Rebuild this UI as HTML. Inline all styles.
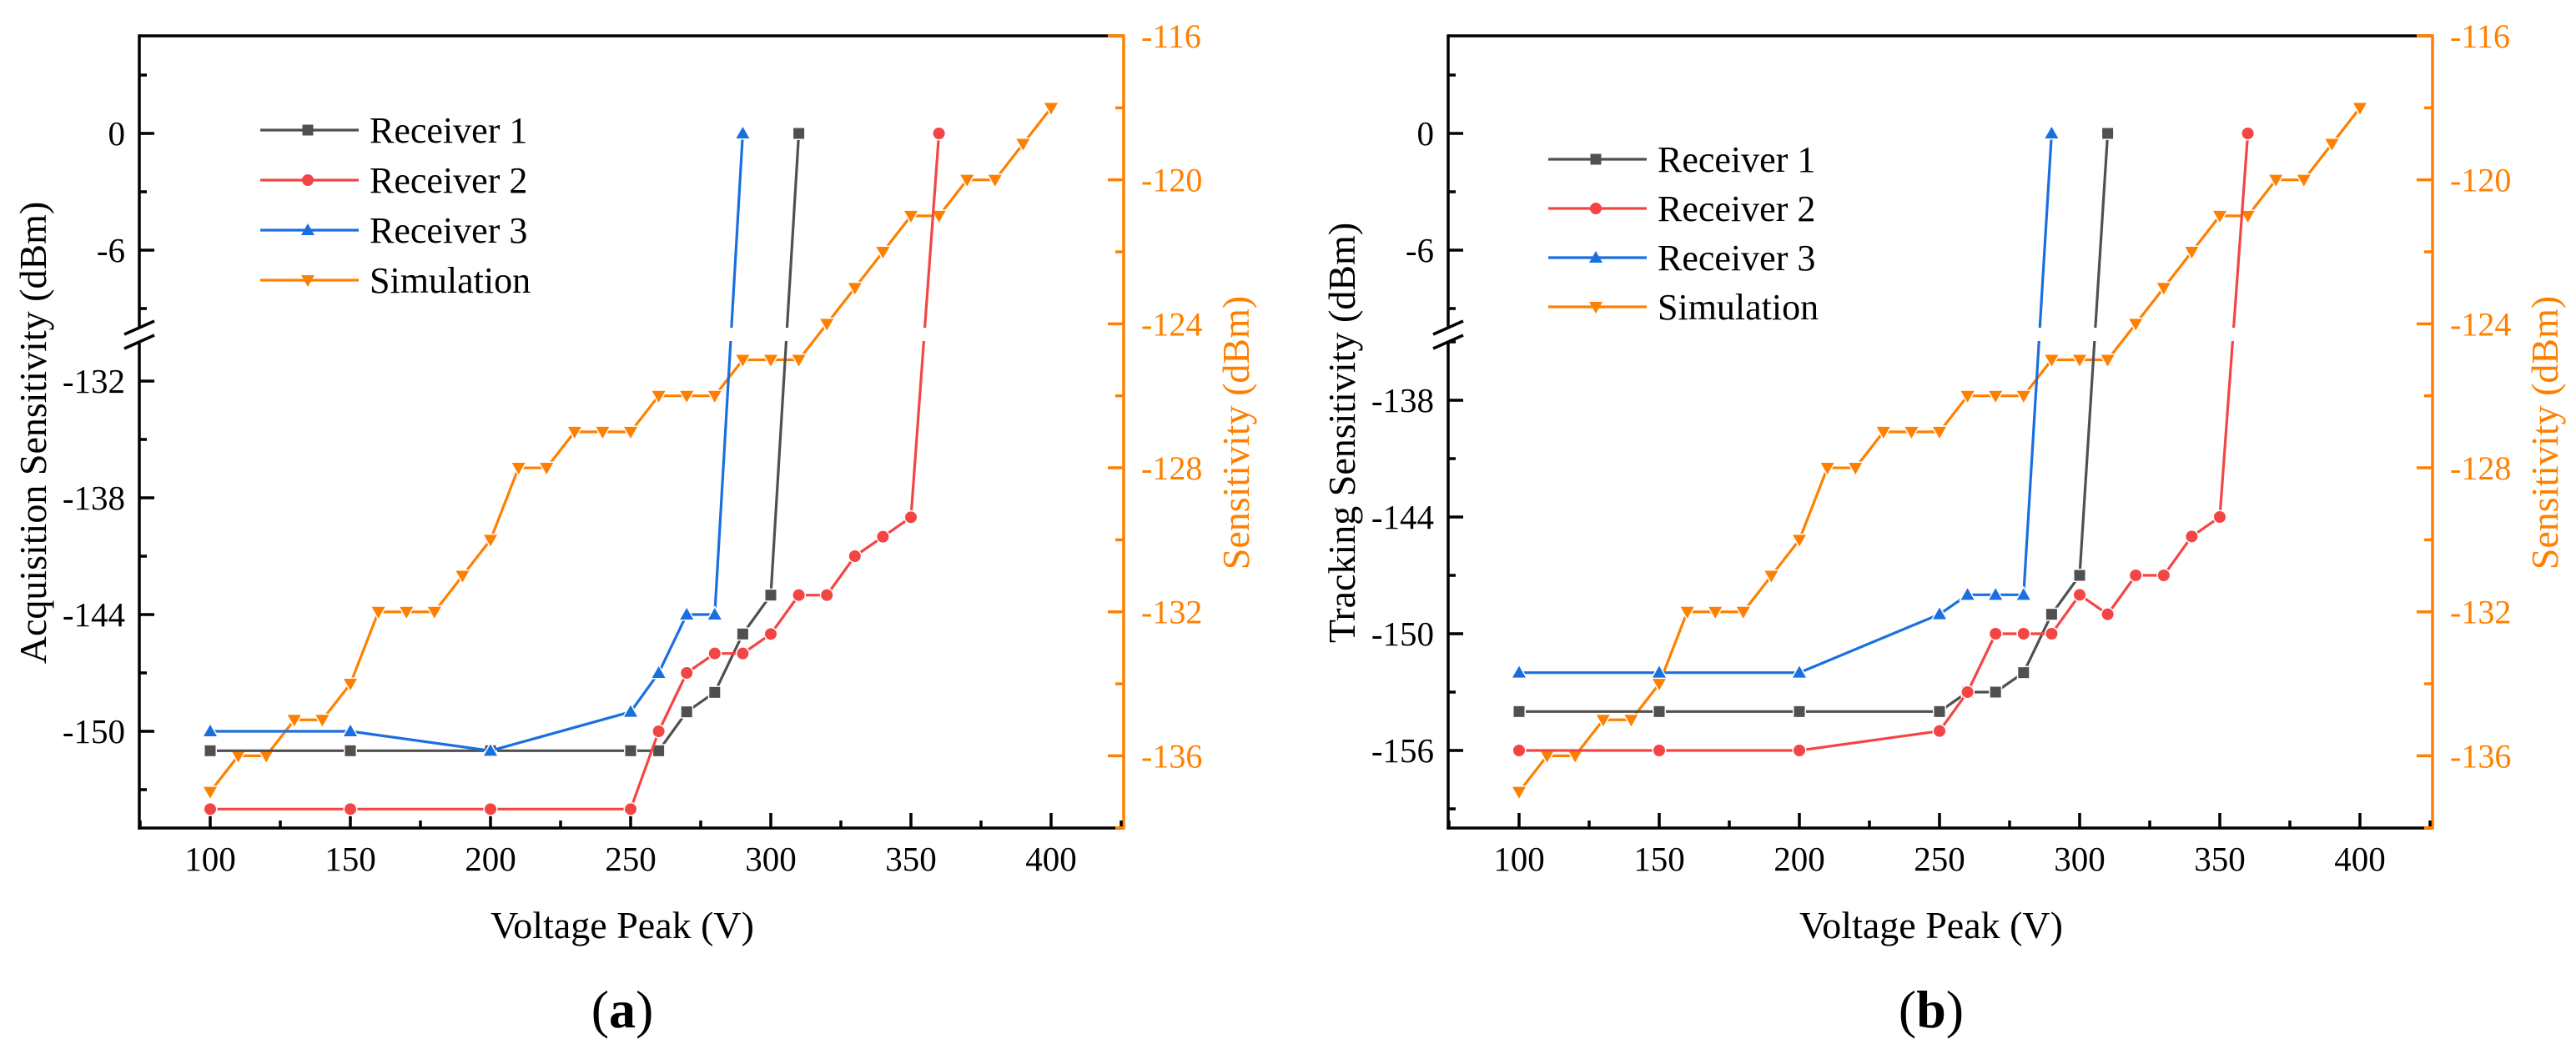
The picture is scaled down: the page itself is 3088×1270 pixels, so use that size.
<!DOCTYPE html>
<html><head><meta charset="utf-8"><style>
html,body{margin:0;padding:0;background:#fff}
svg{display:block}
text{font-family:"Liberation Serif",serif}
</style></head><body>
<svg id="fig" width="3088" height="1270" viewBox="0 0 3088 1270" xmlns="http://www.w3.org/2000/svg"></svg>
<script>
const volts = [100,110,120,130,140,150,160,170,180,190,200,210,220,230,240,250,260,270,280,290,300,310,320,330,340,350,360,370,380,390,400];
const simValues = [-137,-136,-136,-135,-135,-134,-132,-132,-132,-131,-130,-128,-128,-127,-127,-127,-126,-126,-126,-125,-125,-125,-124,-123,-122,-121,-121,-120,-120,-119,-118];
const r1Volts = [100,150,200,250,260,270,280,290,300,310];
const r2Volts = [100,150,200,250,260,270,280,290,300,310,320,330,340,350,360];
const r3Volts = [100,150,200,250,260,270,280,290];
const r1A = [-151,-151,-151,-151,-151,-149,-148,-145,-143,0];
const r2A = [-154,-154,-154,-154,-150,-147,-146,-146,-145,-143,-143,-141,-140,-139,0];
const r3A = [-150,-150,-151,-149,-147,-144,-144,0];
const r1B = [-154,-154,-154,-154,-153,-153,-152,-149,-147,0];
const r2B = [-156,-156,-156,-155,-153,-150,-150,-150,-148,-149,-147,-147,-145,-144,0];
const r3B = [-152,-152,-152,-149,-148,-148,-148,0];
const xTicks = [100,150,200,250,300,350,400];
const rightTicks = [-116,-120,-124,-128,-132,-136];
const topTicks = [0,-6];
const lowTicksA = [-132,-138,-144,-150];
const lowTicksB = [-138,-144,-150,-156];

const NS="http://www.w3.org/2000/svg";
const svg=document.getElementById('fig');
function el(tag,attrs,parent){const e=document.createElementNS(NS,tag);for(const k in attrs)e.setAttribute(k,attrs[k]);(parent||svg).appendChild(e);return e;}
const GRAY="#505050",RED="#F44545",BLUE="#1A6FDF",ORANGE="#FF8000";

function panel(dx, cfg){
  const g=el('g',{});
  
  
  const L=167+dx, R=1347+dx, T=43, B=993;
  const xs=v=>252+dx+(v-100)*3.36;
  const yL=v=> v>-20 ? 160-v*23.333 : cfg.refY-(v-cfg.refV)*23.333;
  const yR=v=>43+(-116-v)*43.17;
  const cp=el('clipPath',{id:'clip'+dx},g);
  el('rect',{x:L,y:T,width:R-L,height:393-T},cp);
  el('rect',{x:L,y:409,width:R-L,height:B-409},cp);
  const top=el('line',{x1:L,y1:T,x2:R,y2:T,stroke:'#000','stroke-width':3.5},g);
  
  const bot=el('line',{x1:L-1.7,y1:B,x2:R,y2:B,stroke:'#000','stroke-width':3.5},g);
  
  const la1=el('line',{x1:L,y1:T-1.7,x2:L,y2:393,stroke:'#000','stroke-width':3.5},g);
  
  const la2=el('line',{x1:L,y1:409,x2:L,y2:B+1.7,stroke:'#000','stroke-width':3.5},g);
  
  el('line',{x1:L-18,y1:401,x2:L+18,y2:385,stroke:'#000','stroke-width':3.5},g);
  el('line',{x1:L-18,y1:418,x2:L+18,y2:402,stroke:'#000','stroke-width':3.5},g);
  const ra=el('line',{x1:R,y1:T-1.7,x2:R,y2:B+1.7,stroke:ORANGE,'stroke-width':3.5},g);
  
  el('line',{x1:R-19,y1:T,x2:R,y2:T,stroke:ORANGE,'stroke-width':3.5},g);
  for(let v=75;v<=425;v+=25){
    const x=xs(v); const maj=v%50===0;
    el('line',{x1:x,y1:B,x2:x,y2:B-(maj?18:9),stroke:'#000','stroke-width':3.5},g);
  }
  xTicks.forEach(v=>{
    const t=el('text',{x:xs(v),y:1044,'font-size':41,'text-anchor':'middle'},g);
    t.textContent=v;
    
  });
  const leftMaj=topTicks.concat(cfg.lowTicks);
  leftMaj.forEach(v=>{
    el('line',{x1:L,y1:yL(v),x2:L+18,y2:yL(v),stroke:'#000','stroke-width':3.5},g);
    const t=el('text',{x:150+dx,y:yL(v)+14,'font-size':41,'text-anchor':'end'},g);
    t.textContent=v;
    
  });
  [3,-3,-9].concat(cfg.lowTicks.map(v=>v-3)).concat(cfg.extraMinor).forEach(v=>{
    el('line',{x1:L,y1:yL(v),x2:L+9,y2:yL(v),stroke:'#000','stroke-width':3.5},g);
  });
  rightTicks.forEach(v=>{
    el('line',{x1:R-19,y1:yR(v),x2:R,y2:yR(v),stroke:ORANGE,'stroke-width':3.5},g);
    const t=el('text',{x:R+21,y:yR(v)+14,'font-size':40,fill:ORANGE},g);
    t.textContent=v;
    
  });
  rightTicks.forEach(v=>{const m=v-2; if(yR(m)<B) el('line',{x1:R-10,y1:yR(m),x2:R,y2:yR(m),stroke:ORANGE,'stroke-width':3.5},g);});
  const xt=el('text',{x:746+dx,y:1125,'font-size':46,'text-anchor':'middle'},g);
  xt.textContent='Voltage Peak (V)';
  
  const yt=el('text',{x:0,y:0,'font-size':46,'text-anchor':'middle',transform:`translate(${55+dx},519) rotate(-90)`},g);
  yt.textContent=cfg.ytitle;
  
  const rt=el('text',{x:0,y:0,'font-size':46,'text-anchor':'middle',fill:ORANGE,transform:`translate(${1497+dx},519) rotate(-90)`},g);
  rt.textContent='Sensitivity (dBm)';
  
  const lab=el('text',{x:746+dx,y:1232,'font-size':64,'text-anchor':'middle'},g);
  lab.innerHTML='(<tspan font-weight="bold">'+cfg.label+'</tspan>)';
  

  function marker(shape,x,y,color,parent){
    let m;
    if(shape==='sq') m=el('rect',{x:x-6.5,y:y-6.5,width:13,height:13,fill:color},parent);
    else if(shape==='ci') m=el('circle',{cx:x,cy:y,r:7,fill:color},parent);
    else if(shape==='up') m=el('polygon',{points:`${x},${y-8} ${x-8},${y+6} ${x+8},${y+6}`,fill:color},parent);
    else m=el('polygon',{points:`${x},${y+8} ${x-8},${y-6} ${x+8},${y-6}`,fill:color},parent);
    m.setAttribute('stroke','#fff');m.setAttribute('stroke-width','3');m.setAttribute('paint-order','stroke');
    return m;
  }
  function series(name,xv,yv,yf,color,shape,clip){
    const sg=el('g',{},g);
    
    
    const pts=xv.map((v,i)=>xs(v)+','+yf(yv[i])).join(' ');
    const pl=el('polyline',{points:pts,fill:'none',stroke:color,'stroke-width':3.2,'stroke-linejoin':'round'},sg);
    if(clip) pl.setAttribute('clip-path',`url(#clip${dx})`);
    
    xv.forEach((v,i)=>{
      const m=marker(shape,xs(v),yf(yv[i]),color,sg);
      
      
    });
  }
  series('simulation-series',volts,simValues,yR,ORANGE,'dn',false);
  series('receiver-1-series',r1Volts,cfg.r1,yL,GRAY,'sq',true);
  series('receiver-2-series',r2Volts,cfg.r2,yL,RED,'ci',true);
  series('receiver-3-series',r3Volts,cfg.r3,yL,BLUE,'up',true);
  const lg=el('g',{},g);
  
  const items=[['Receiver 1',GRAY,'sq'],['Receiver 2',RED,'ci'],['Receiver 3',BLUE,'up'],['Simulation',ORANGE,'dn']];
  items.forEach((it,i)=>{
    const y=cfg.legY+i*cfg.legDy, x0=cfg.legX+dx;
    const e=el('g',{},lg);
    
    el('line',{x1:x0,y1:y,x2:x0+118,y2:y,stroke:it[1],'stroke-width':3.2},e);
    marker(it[2],x0+57,y,it[1],e).setAttribute('stroke','none');
    const t=el('text',{x:x0+131,y:y+15,'font-size':44},e);
    t.textContent=it[0];
  });
}
panel(0,{name:'panel-a',refV:-150,refY:877,lowTicks:lowTicksA,extraMinor:[],ytitle:'Acquisition Sensitivity (dBm)',label:'a',r1:r1A,r2:r2A,r3:r3A,legX:312,legY:156,legDy:60});
panel(1569,{name:'panel-b',refV:-156,refY:900,lowTicks:lowTicksB,extraMinor:[-135],ytitle:'Tracking Sensitivity (dBm)',label:'b',r1:r1B,r2:r2B,r3:r3B,legX:287,legY:191,legDy:59});
</script>
</body></html>
